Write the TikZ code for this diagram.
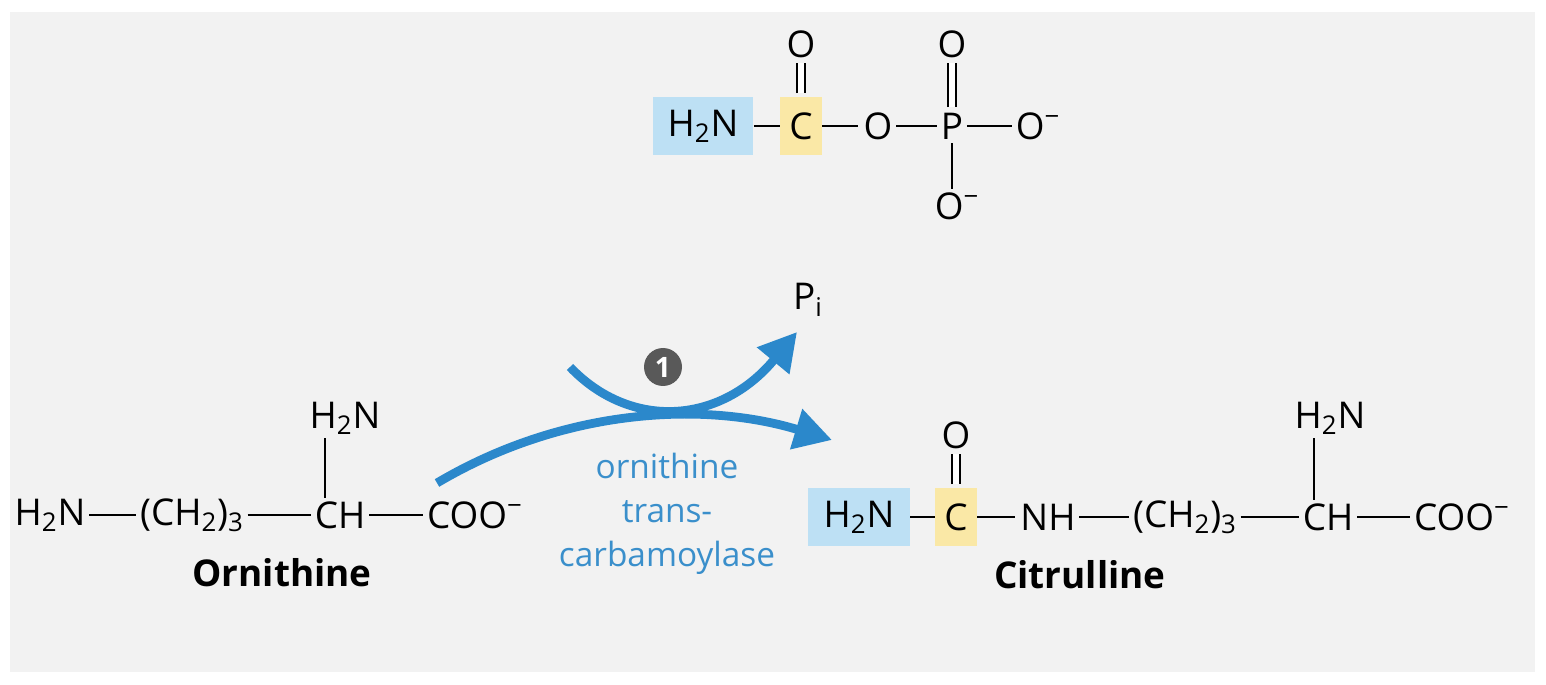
\documentclass[tikz,border=0pt]{standalone}
\usepackage{fontspec}
\setmainfont{Open Sans}
\usetikzlibrary{arrows.meta}
\definecolor{panel}{HTML}{F2F2F2}
\definecolor{nblue}{HTML}{BDE0F4}
\definecolor{cyell}{HTML}{FAE8A6}
\definecolor{rblue}{HTML}{2B88CB}
\definecolor{tblue}{HTML}{3A8FCB}
\tikzset{
  atom/.style={inner sep=1pt, font=\fontsize{21}{24}\selectfont},
  bond/.style={line width=0.9pt, shorten <=1pt, shorten >=1pt},
  boxbond/.style={line width=0.9pt, shorten <=0pt, shorten >=0pt},
  dbl/.style={line width=0.9pt, double distance=3.5pt, shorten <=2pt, shorten >=2pt},
  molname/.style={font=\fontsize{21}{24}\selectfont\bfseries},
  enz/.style={text=tblue, font=\fontsize{19}{24}\selectfont, align=center},
  rarrow/.style={rblue, line width=5pt, -{Triangle[length=0.75cm,width=0.8cm]}},
}
\begin{document}
\begin{tikzpicture}[x=0.02cm,y=-0.02cm]
\useasboundingbox (0,0) rectangle (1546,685);
\fill[panel] (10,12) rectangle (1535,672);
% carbamoyl phosphate
\node[atom, fill=nblue, minimum width=2.02cm, minimum height=1.16cm] (cpn) at (703,126) {H\textsubscript{2}N};
\node[atom, fill=cyell, minimum width=0.84cm, minimum height=1.16cm] (cpc) at (801,126) {C};
\node[atom] (cpo) at (878,126) {O};
\node[atom] (cpp) at (952,126) {P};
\node[atom] (cpom) at (1038,126) {O\textsuperscript{−}};
\node[atom] (cpoc) at (801,44) {O};
\node[atom] (cpop) at (952,44) {O};
\node[atom] (cpob) at (957,206) {O\textsuperscript{−}};
\draw[boxbond] (cpn) -- (cpc);
\draw[boxbond] (cpc) -- ([xshift=-2pt]cpo.west);
\draw[bond] (cpo) -- (cpp);
\draw[bond] (cpp) -- (cpom.west);
\draw[dbl] (cpc) -- (cpoc);
\draw[dbl] (cpp) -- (cpop);
\draw[bond] (cpp) -- (cpp|-cpob.north);
% ornithine
\node[atom] (on) at (50,515) {H\textsubscript{2}N};
\node[atom] (och) at (192,515) {(CH\textsubscript{2})\textsubscript{3}};
\node[atom] (oc) at (340,515) {CH};
\node[atom] (ocoo) at (475,515) {COO\textsuperscript{−}};
\node[atom] (oan) at (345,418) {H\textsubscript{2}N};
\draw[bond] (on) -- (och);
\draw[bond] (och) -- (oc);
\draw[bond] (oc) -- (ocoo.west);
\draw[bond] (oc.north-|oan) ++(-20,0) coordinate (ob) -- (ob|-oan.south);
\node[molname] (oname) at (282,573) {Ornithine};
% citrulline
\node[atom, fill=nblue, minimum width=2.04cm, minimum height=1.16cm] (cn) at (859,517) {H\textsubscript{2}N};
\node[atom, fill=cyell, minimum width=0.84cm, minimum height=1.16cm] (cc) at (956,517) {C};
\node[atom] (co) at (956,435) {O};
\node[atom] (cnh) at (1048,517) {NH};
\node[atom] (cch) at (1185,517) {(CH\textsubscript{2})\textsubscript{3}};
\node[atom] (ccc) at (1328,517) {CH};
\node[atom] (ccoo) at (1462,517) {COO\textsuperscript{−}};
\node[atom] (can) at (1330,418) {H\textsubscript{2}N};
\draw[boxbond] (cn) -- (cc);
\draw[boxbond] (cc) -- ([xshift=-2pt]cnh.west);
\draw[bond] (cnh) -- (cch);
\draw[bond] (cch) -- (ccc);
\draw[bond] (ccc) -- (ccoo.west);
\draw[dbl] (cc) -- (co);
\draw[bond] (ccc.north) ++(-14,0) coordinate (cb) -- (cb|-can.south);
\node[molname] (cname) at (1080,575) {Citrulline};
% reaction
\node[atom] (pi) at (808,300) {P\textsubscript{i}};
\coordinate (start) at (437,483);
\coordinate (endp) at (832,440);
\coordinate (cin) at (570,367);
\coordinate (cout) at (797,332);
\draw[rarrow] (start) .. controls (560,410) and (700,400) .. (endp);
\draw[rarrow] (cin) .. controls (630,430) and (720,425) .. (cout);
\node[circle, fill=black!65, text=white, inner sep=0pt, minimum size=0.76cm, font=\fontsize{16}{18}\selectfont\bfseries] (step) at (663,367) {1};
\node[enz] (enzyme) at (667,514) {ornithine\\[1pt]trans-\\[1pt]carbamoylase};
\end{tikzpicture}
\end{document}
